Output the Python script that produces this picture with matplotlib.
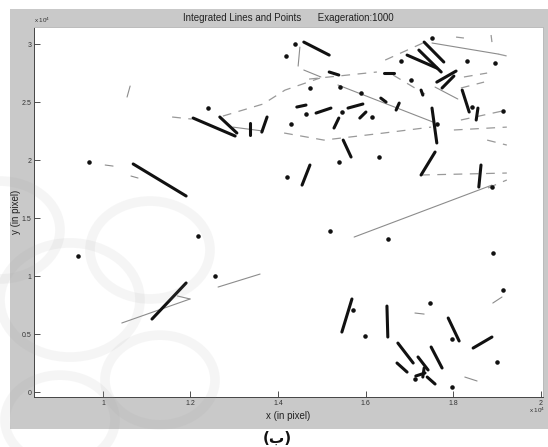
import numpy as np
import matplotlib
matplotlib.use("Agg")
import matplotlib.pyplot as plt
from matplotlib.patches import Rectangle, Circle

plt.rcParams['font.family'] = ['Liberation Sans Narrow', 'Liberation Sans', 'DejaVu Sans']

# ---- data (units of 1e4 pixel) ----
# thick black segments: x0, y0, x1, y1
thick_x0 = [1.206, 1.267, 1.336, 1.375, 1.069, 1.459, 1.734, 1.722, 1.695, 1.763,
            1.775, 1.517, 1.642, 1.727, 1.821, 1.857, 1.443, 1.487, 1.560, 1.587,
            1.528, 1.635, 1.670, 1.752, 1.549, 1.455, 1.727, 1.864, 1.112, 1.546,
            1.649, 1.674, 1.672, 1.720, 1.750, 1.715, 1.734, 1.741, 1.789, 1.846]
thick_y0 = [2.362, 2.371, 2.319, 2.371, 1.966, 3.017, 3.017, 2.948, 2.905, 2.672,
            2.621, 2.759, 2.750, 2.603, 2.603, 2.448, 2.457, 2.405, 2.448, 2.362,
            2.276, 2.534, 2.431, 2.448, 2.172, 1.784, 1.871, 1.957, 0.629, 0.517,
            0.741, 0.422, 0.250, 0.302, 0.388, 0.138, 0.207, 0.129, 0.638, 0.379]
thick_x1 = [1.302, 1.306, 1.336, 1.363, 1.190, 1.517, 1.779, 1.773, 1.763, 1.807,
            1.802, 1.539, 1.665, 1.731, 1.837, 1.853, 1.464, 1.521, 1.594, 1.601,
            1.539, 1.647, 1.677, 1.763, 1.567, 1.473, 1.759, 1.859, 1.190, 1.569,
            1.651, 1.709, 1.695, 1.743, 1.775, 1.736, 1.731, 1.759, 1.814, 1.889]
thick_y1 = [2.207, 2.233, 2.216, 2.241, 1.690, 2.905, 2.845, 2.759, 2.793, 2.767,
            2.724, 2.733, 2.750, 2.560, 2.414, 2.345, 2.474, 2.448, 2.483, 2.414,
            2.362, 2.500, 2.491, 2.147, 2.026, 1.957, 2.069, 1.767, 0.940, 0.802,
            0.474, 0.250, 0.172, 0.190, 0.207, 0.164, 0.129, 0.069, 0.440, 0.474]

# thin gray solid segments
thin_x0 = [1.450, 1.459, 1.537, 1.752, 1.574, 1.043, 1.170, 1.263, 1.297, 1.759,
           1.713, 1.891, 1.827, 1.055, 1.005, 1.064]
thin_y0 = [2.974, 2.776, 2.647, 3.009, 1.336, 0.595, 0.828, 0.905, 2.284, 2.629,
           0.681, 0.767, 0.129, 2.543, 1.957, 1.862]
thin_x1 = [1.446, 1.498, 1.754, 1.903, 1.889, 1.199, 1.199, 1.359, 1.366, 1.811,
           1.734, 1.912, 1.855, 1.062, 1.023, 1.080]
thin_y1 = [2.810, 2.716, 2.328, 2.914, 1.784, 0.802, 0.802, 1.017, 2.250, 2.526,
           0.672, 0.819, 0.095, 2.638, 1.948, 1.845]

# dashed gray polylines
dashed_lines = [
    ([1.158, 1.203], [2.371, 2.353]),
    ([1.274, 1.366, 1.416, 1.496], [2.379, 2.483, 2.603, 2.707]),
    ([1.471, 1.626], [2.698, 2.759]),
    ([1.663, 1.736], [2.733, 2.569]),
    ([1.645, 1.736], [2.862, 3.017]),
    ([1.414, 1.505, 1.642, 1.750], [2.233, 2.172, 2.233, 2.284]),
    ([1.727, 1.923], [1.871, 1.888]),
    ([1.880, 1.923], [1.759, 1.828]),
    ([1.818, 1.923], [2.345, 2.431]),
    ([1.802, 1.923], [2.259, 2.284]),
    ([1.878, 1.923], [2.172, 2.129]),
    ([1.825, 1.878], [2.716, 2.750]),
    ([1.818, 1.871], [2.621, 2.672]),
    ([1.807, 1.825], [3.060, 3.052]),
    ([1.887, 1.889], [3.078, 3.017]),
    ([1.903, 1.923], [2.914, 2.897]),
]

# points
pt_x = [1.240, 1.439, 1.418, 1.681, 1.752, 1.832, 1.896, 1.704, 1.473, 1.542,
        1.590, 1.464, 1.546, 1.615, 1.430, 1.763, 1.843, 1.914, 1.539, 1.631,
        1.421, 1.889, 0.943, 1.217, 1.256, 1.519, 1.651, 1.891, 1.914, 1.747,
        1.571, 1.599, 1.798, 1.901, 1.713, 1.798, 0.968]
pt_y = [2.448, 3.000, 2.897, 2.853, 3.052, 2.853, 2.836, 2.690, 2.621, 2.629,
        2.578, 2.397, 2.414, 2.371, 2.310, 2.310, 2.457, 2.422, 1.983, 2.026,
        1.853, 1.767, 1.172, 1.345, 1.000, 1.388, 1.319, 1.198, 0.879, 0.767,
        0.707, 0.483, 0.457, 0.259, 0.112, 0.043, 1.983]

x_ticks = [1, 1.2, 1.4, 1.6, 1.8, 2]
x_tick_labels = ["1", "1.2", "1.4", "1.6", "1.8", "2"]
y_ticks = [0, 0.5, 1, 1.5, 2, 2.5, 3]
y_tick_labels = ["0", "0.5", "1", "1.5", "2", "2.5", "3"]

W, H = 548, 447
fig = plt.figure(figsize=(W / 100, H / 100), dpi=100, facecolor="white")

# MATLAB figure background
fig.patches.append(Rectangle((10 / W, 1 - 429 / H), 538 / W, 420 / H,
                             transform=fig.transFigure, facecolor="#c9c9c9",
                             edgecolor="none", zorder=-10))

ax = fig.add_axes([34 / W, 1 - 397 / H, 509 / W, 370 / H])
ax.set_facecolor("white")

for i in range(len(thin_x0)):
    ax.plot([thin_x0[i], thin_x1[i]], [thin_y0[i], thin_y1[i]],
            color="#8c8c8c", lw=0.8, solid_capstyle="round")
for xs, ys in dashed_lines:
    ax.plot(xs, ys, color="#999999", lw=0.9, dashes=(7, 6))
for i in range(len(thick_x0)):
    ax.plot([thick_x0[i], thick_x1[i]], [thick_y0[i], thick_y1[i]],
            color="#111111", lw=2.2, solid_capstyle="round")
ax.plot(pt_x, pt_y, ".", color="#111111", ms=4.5)

ax.set_xlim(0.8423, 2.0057)
ax.set_ylim(-0.043, 3.147)
ax.set_xticks(x_ticks)
ax.set_xticklabels(x_tick_labels)
ax.set_yticks(y_ticks)
ax.set_yticklabels(y_tick_labels)
ax.tick_params(direction="in", length=4, width=0.6, labelsize=5, pad=2,
               colors="#333333")
for name, s in ax.spines.items():
    s.set_color("#444444" if name in ("left", "bottom") else "#bbbbbb")
    s.set_linewidth(0.7)

ax.set_title("Integrated Lines and Points      Exageration:1000", fontsize=7,
             pad=4, color="#222222")
ax.set_xlabel("x (in pixel)", fontsize=7, labelpad=3, color="#222222")
ax.set_ylabel("y (in pixel)", fontsize=7, labelpad=0, color="#222222")
fig.text(34 / W, 1 - 23 / H, "x 10$^4$", fontsize=4.5, ha="left", va="baseline",
         color="#333333")
fig.text(545 / W, 1 - 413 / H, "x 10$^4$", fontsize=4.5, ha="right", va="baseline",
         color="#333333")

# faint watermark rosette
for cx, cy, r in [(70, 300, 70), (150, 250, 60), (60, 420, 55), (160, 380, 55),
                  (0, 230, 60)]:
    fig.patches.append(Circle((cx / W, 1 - cy / H), r / W, transform=fig.transFigure,
                              facecolor="none", edgecolor="#9a9a9a", lw=7,
                              alpha=0.09, zorder=5))

fig.text(277 / W, 1 - 438 / H, "(ب)", fontsize=11, ha="center", va="center",
         family=["DejaVu Sans"], weight="bold", color="#111111")

fig.savefig("out.png", dpi=100, facecolor="white")
